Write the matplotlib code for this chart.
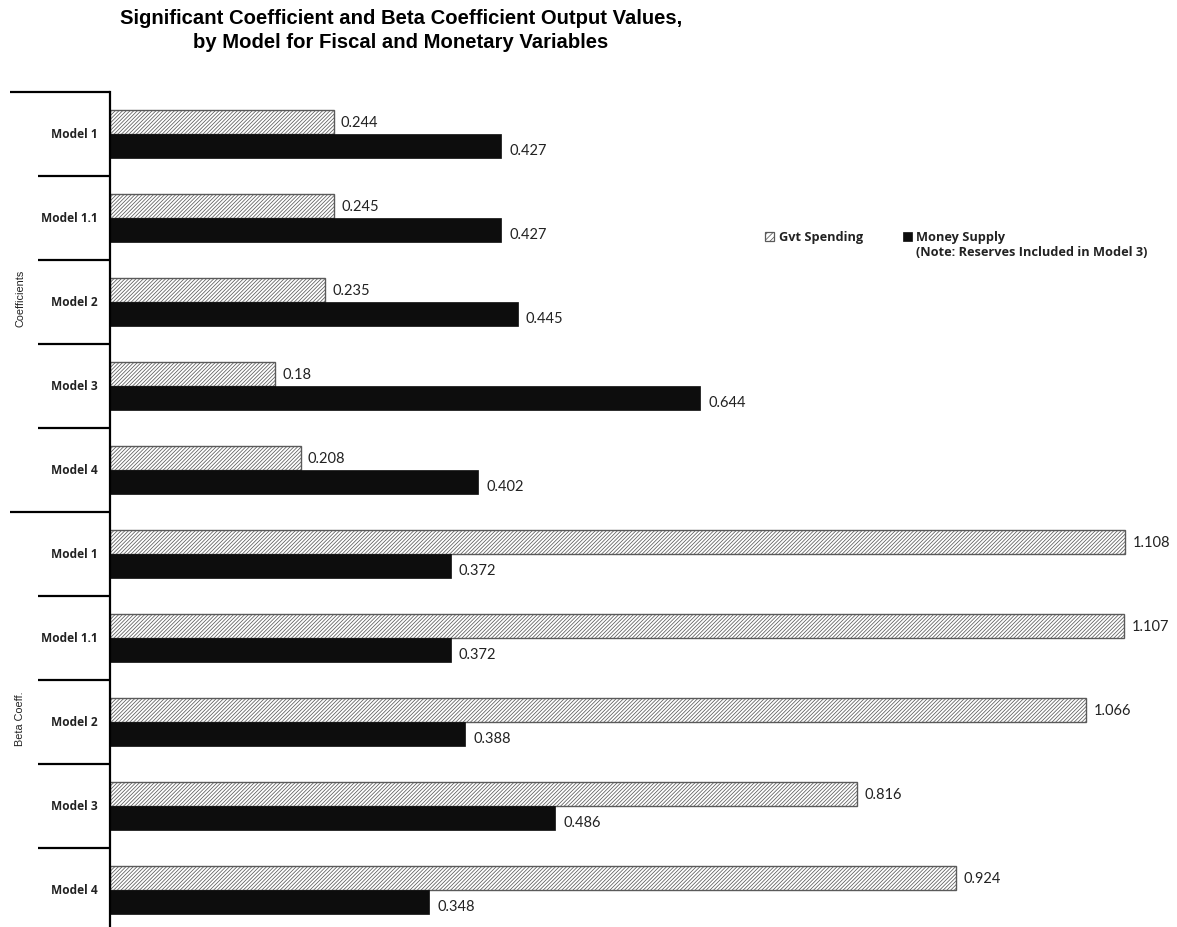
import matplotlib
matplotlib.use("Agg")
import matplotlib.pyplot as plt
from matplotlib.patches import Rectangle
from matplotlib.transforms import blended_transform_factory

# Data
models = ["Model 1", "Model 1.1", "Model 2", "Model 3", "Model 4",
          "Model 1", "Model 1.1", "Model 2", "Model 3", "Model 4"]
groups = ["Coefficients", "Beta Coeff."]
series_names = ["Gvt Spending", "Money Supply", "(Note: Reserves Included in Model 3)"]
gvt_spending = [0.244, 0.245, 0.235, 0.18, 0.208, 1.108, 1.107, 1.066, 0.816, 0.924]
money_supply = [0.427, 0.427, 0.445, 0.644, 0.402, 0.372, 0.372, 0.388, 0.486, 0.348]

W, H = 1177, 928
plt.rcParams['hatch.color'] = '#a8a8a8'
plt.rcParams['hatch.linewidth'] = 0.55

fig = plt.figure(figsize=(W / 100, H / 100), dpi=100)
ax = fig.add_axes([110 / W, -5 / H, (W - 110) / W, 840 / H])

n = len(models)
pos = list(range(n))
bh = 0.285
hatch = '/////////'
edge_gray = '#5a5a5a'
dark = '#0d0d0d'

ax.barh([p - bh / 2 for p in pos], gvt_spending, height=bh, facecolor='white',
        edgecolor=edge_gray, hatch=hatch, linewidth=1.0)
ax.barh([p + bh / 2 for p in pos], money_supply, height=bh, facecolor=dark,
        edgecolor=dark, linewidth=0.5)

for p, g, m in zip(pos, gvt_spending, money_supply):
    ax.text(g + 0.008, p - bh / 2, f"{g:g}", va='center', ha='left',
            fontsize=10.5, family='Lato', color='#222222')
    ax.text(m + 0.009, p + bh / 2 + 0.05, f"{m:g}", va='center', ha='left',
            fontsize=10.5, family='Lato', color='#222222')

ax.set_xlim(0, (W - 110) / 916)
ax.set_ylim(n - 0.5, -0.5)
for s in ['top', 'right', 'bottom']:
    ax.spines[s].set_visible(False)
ax.spines['left'].set_linewidth(1.6)
ax.set_xticks([])
ax.set_yticks([])

# Category labels and grouping separators
tr = blended_transform_factory(ax.transAxes, ax.transData)
for p, name in zip(pos, models):
    ax.text(-12 / (W - 110), p, name, transform=tr, ha='right', va='center',
            fontsize=8.6, fontweight='bold', family='Open Sans', color='#222222')

x_long = (10 - 110) / (W - 110)
x_short = (38 - 110) / (W - 110)
for b in range(n + 1):
    yb = b - 0.5
    x0 = x_long if b % 5 == 0 else x_short
    ax.plot([x0, 0], [yb, yb], transform=tr, color='black', lw=1.6,
            clip_on=False, solid_capstyle='butt')

for gi, gname in enumerate(groups):
    ax.text((20 - 110) / (W - 110), gi * 5 + 1.95, gname, transform=tr,
            rotation=90, ha='center', va='center', fontsize=7.8,
            family='Liberation Sans', color='#222222')

fig.text(401 / W, 1 - 18 / H,
         "Significant Coefficient and Beta Coefficient Output Values,",
         ha='center', va='center', fontsize=14.6, fontweight='bold',
         family='Liberation Sans')
fig.text(401 / W, 1 - 43 / H,
         "by Model for Fiscal and Monetary Variables",
         ha='center', va='center', fontsize=14.6, fontweight='bold',
         family='Liberation Sans')

# Legend drawn in figure pixel coordinates
sq = 9
leg_font = dict(family='Open Sans', fontweight='bold', fontsize=9.2,
                color='#222222', va='center', ha='left')
fig.add_artist(Rectangle((765 / W, 1 - 242 / H), sq / W, sq / H,
                         transform=fig.transFigure, facecolor='white',
                         edgecolor=edge_gray, hatch='//////', linewidth=0.9))
fig.text(779 / W, 1 - 237 / H, series_names[0], **leg_font)
fig.add_artist(Rectangle((903 / W, 1 - 242 / H), sq / W, sq / H,
                         transform=fig.transFigure, facecolor=dark,
                         edgecolor=dark, linewidth=0.5))
fig.text(916 / W, 1 - 237 / H, series_names[1], **leg_font)
fig.text(916 / W, 1 - 253 / H, series_names[2], **leg_font)

fig.savefig("out.png", dpi=100)
